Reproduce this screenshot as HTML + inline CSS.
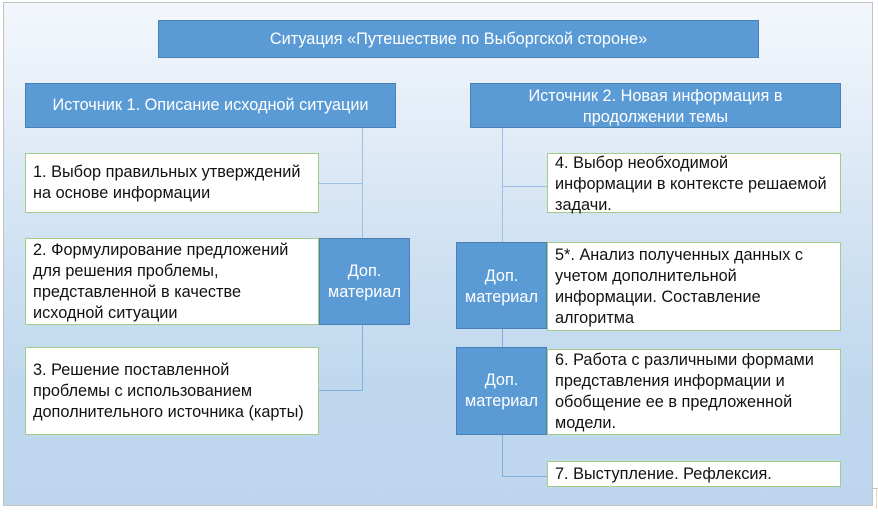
<!DOCTYPE html>
<html>
<head>
<meta charset="utf-8">
<style>
  html, body { margin:0; padding:0; }
  body { width:878px; height:515px; position:relative; overflow:hidden; background:#ffffff;
         font-family:"Liberation Sans", "DejaVu Sans", sans-serif; }
  .frame { position:absolute; left:3px; top:2px; width:870px; height:504px; box-sizing:border-box;
           border:1px solid #c3c3c3;
           background:linear-gradient(to bottom, #f3f7fc 0%, #e2ecf7 25%, #cfe1f2 50%, #c0d8ee 75%, #bdd6ee 100%); }
  .b { position:absolute; box-sizing:border-box; background:#5b9bd5; border:1px solid #4a80b6; color:#fff;
       display:flex; align-items:center; justify-content:center; text-align:center;
       font-size:16.3px; line-height:21px; white-space:nowrap; }
  .w { position:absolute; box-sizing:border-box; background:#fff; border:1px solid #a3cd86; color:#111;
       display:flex; align-items:center; padding-left:7px; font-size:16.3px; line-height:21px; white-space:nowrap;
       overflow:visible; }
  .ln { position:absolute; background:#9cc2e8; }
  .ln2 { position:absolute; background:#7eb0e0; }
</style>
</head>
<body>
<div class="frame"></div>

<!-- connectors -->
<div class="ln" style="left:362px; top:128px; width:1px; height:110px;"></div>
<div class="ln" style="left:319px; top:183px; width:43px; height:1px;"></div>
<div class="ln2" style="left:362px; top:325px; width:1px; height:66px;"></div>
<div class="ln2" style="left:319px; top:390px; width:44px; height:1px;"></div>

<div class="ln" style="left:502px; top:128px; width:1px; height:114px;"></div>
<div class="ln" style="left:502px; top:186px; width:45px; height:1px;"></div>
<div class="ln2" style="left:502px; top:329px; width:1px; height:18px;"></div>
<div class="ln2" style="left:502px; top:435px; width:1px; height:42px;"></div>
<div class="ln2" style="left:502px; top:476px; width:45px; height:1px;"></div>

<!-- title -->
<div class="b" style="left:158px; top:20px; width:601px; height:38px;">Ситуация «Путешествие по Выборгской стороне»</div>

<!-- sources -->
<div class="b" style="left:25px; top:83px; width:371px; height:45px;">Источник 1. Описание исходной ситуации</div>
<div class="b" style="left:470px; top:83px; width:371px; height:45px; padding-top:3px;">Источник 2. Новая информация в<br>продолжении темы</div>

<!-- left column -->
<div class="w" style="left:25px; top:153px; width:294px; height:60px;"><div>1. Выбор правильных утверждений<br>на основе информации</div></div>
<div class="w" style="left:25px; top:238px; width:294px; height:87px;"><div>2. Формулирование предложений<br>для решения проблемы,<br>представленной в качестве<br>исходной ситуации</div></div>
<div class="b" style="left:319px; top:238px; width:91px; height:87px;">Доп.<br>материал</div>
<div class="w" style="left:25px; top:347px; width:294px; height:88px;"><div>3. Решение поставленной<br>проблемы с использованием<br>дополнительного источника (карты)</div></div>

<!-- right column -->
<div class="w" style="left:547px; top:153px; width:294px; height:60px; padding-top:2px;"><div>4. Выбор необходимой<br>информации в контексте решаемой<br>задачи.</div></div>
<div class="b" style="left:456px; top:242px; width:91px; height:87px; padding-top:3px;">Доп.<br>материал</div>
<div class="w" style="left:547px; top:242px; width:294px; height:89px;"><div>5*. Анализ полученных данных с<br>учетом дополнительной<br>информации. Составление<br>алгоритма</div></div>
<div class="b" style="left:456px; top:347px; width:91px; height:88px;">Доп.<br>материал</div>
<div class="w" style="left:547px; top:349px; width:294px; height:86px;"><div>6. Работа с различными формами<br>представления информации и<br>обобщение ее в предложенной<br>модели.</div></div>
<div class="w" style="left:547px; top:461px; width:294px; height:26px;"><div>7. Выступление. Рефлексия.</div></div>

<!-- small corner artifact -->
<div style="position:absolute; left:873px; top:488px; width:5px; height:1px; background:#c3c3c3;"></div>
<div style="position:absolute; left:876px; top:489px; width:1px; height:20px; background:#f0d8c0;"></div>
</body>
</html>
